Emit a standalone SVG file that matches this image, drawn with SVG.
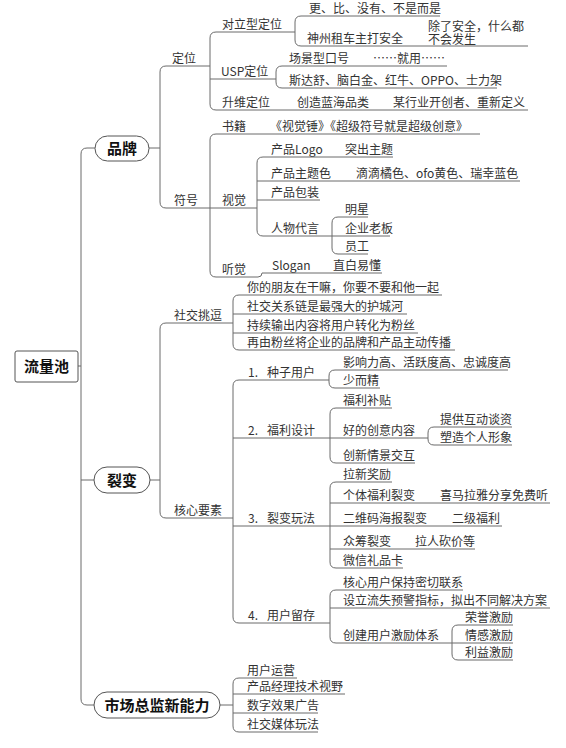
<svg xmlns="http://www.w3.org/2000/svg" width="566" height="748" viewBox="0 0 566 748">
<style>
.t{font-family:"Noto Sans CJK SC","Liberation Sans",sans-serif;font-size:12px;fill:#333}
.h{font-family:"Noto Sans CJK SC","Liberation Sans",sans-serif;font-size:15px;font-weight:bold;fill:#111;text-anchor:middle}
.u{stroke:#6a6a6a;stroke-width:1;fill:none}
.box{fill:#fff;stroke:#555;stroke-width:1}
</style>
<rect width="566" height="748" fill="#fff"/>
<g id="connectors" class="u">
<path d="M78 366H81M95 148H87Q81 148 81 154V699Q81 705 87 705H94M81 480H94"/>
<path d="M149 148H160M166 66Q160 66 160 72V202Q160 208 166 208"/>
<path d="M216 32Q210 32 210 38V104Q210 110 216 110"/>
<path d="M301 16Q295 16 295 22V40Q295 46 301 46"/>
<path d="M282 66Q276 66 276 72V82Q276 88 282 88"/>
<path d="M216 134Q210 134 210 140V271Q210 277 216 277"/>
<path d="M258 277Q262 277 262 273"/>
<path d="M263 157Q257 157 257 163V230Q257 236 263 236"/>
<path d="M338 217Q332 217 332 223V248Q332 254 338 254"/>
<path d="M150 480H160M166 323Q160 323 160 329V512Q160 518 166 518"/>
<path d="M239 295Q233 295 233 301V344Q233 350 239 350"/>
<path d="M239 380Q233 380 233 386V617Q233 623 239 623"/>
<path d="M335 370Q329 370 329 376V382Q329 388 335 388"/>
<path d="M336 408Q330 408 330 414V457Q330 463 336 463"/>
<path d="M434 427Q428 427 428 433V439Q428 445 434 445"/>
<path d="M336 482Q330 482 330 488V562Q330 568 336 568"/>
<path d="M336 590Q330 590 330 596V637Q330 643 336 643"/>
<path d="M458 625Q452 625 452 631V654Q452 660 458 660"/>
<path d="M220 705H233M239 678Q233 678 233 684V726Q233 732 239 732"/>
</g>
<g id="root"><rect class="box" x="15" y="351" width="63" height="31" rx="2"/><text class="h" x="46.5" y="372">流量池</text></g>
<g id="brand"><rect class="box" x="95" y="136" width="54" height="25" rx="12.5"/><text class="h" x="122" y="154">品牌</text></g>
<g id="fission"><rect class="box" x="94" y="467" width="56" height="26" rx="13"/><text class="h" x="122" y="485.5">裂变</text></g>
<g id="cmo"><rect class="box" x="94" y="692" width="126" height="26" rx="13"/><text class="h" x="157" y="710.5">市场总监新能力</text></g>

<g id="dingwei"><text class="t" x="172" y="63">定位</text><path class="u" d="M166 66H210"/></g>
<g id="duili"><text class="t" x="222" y="29">对立型定位</text><path class="u" d="M216 32H295"/></g>
<g id="geng"><text class="t" x="309" y="13">更、比、没有、不是而是</text><path class="u" d="M301 16H440"/></g>
<g id="shenzhou"><text class="t" x="307" y="43">神州租车主打安全</text><path class="u" d="M301 46H424"/></g>
<g id="chule"><text class="t" x="428" y="31">除了安全，什么都<tspan x="428" dy="12.5">不会发生</tspan></text><path class="u" d="M424 46H528"/></g>
<g id="usp"><text class="t" x="221" y="76">USP定位</text><path class="u" d="M210 79H276"/></g>
<g id="changjing"><text class="t" x="289" y="63">场景型口号</text><path class="u" d="M282 66H358"/></g>
<g id="jiuyong"><text class="t" x="373" y="63">……就用……</text><path class="u" d="M358 66H447"/></g>
<g id="sidashu"><text class="t" x="289" y="85">斯达舒、脑白金、红牛、OPPO、士力架</text><path class="u" d="M282 88H497"/></g>
<g id="shengwei"><text class="t" x="222" y="107">升维定位</text><path class="u" d="M216 110H290"/></g>
<g id="lanhai"><text class="t" x="297" y="107">创造蓝海品类</text><path class="u" d="M290 110H388"/></g>
<g id="kaichuang"><text class="t" x="393" y="107">某行业开创者、重新定义</text><path class="u" d="M388 110H528"/></g>

<g id="fuhao"><text class="t" x="174" y="205">符号</text><path class="u" d="M166 208H210"/></g>
<g id="shuji"><text class="t" x="222" y="131">书籍</text><path class="u" d="M216 134H268"/></g>
<g id="books"><text class="t" x="270" y="131">《视觉锤》《超级符号就是超级创意》</text><path class="u" d="M268 134H480"/></g>
<g id="shijue"><text class="t" x="222" y="205">视觉</text><path class="u" d="M210 208H257"/></g>
<g id="logo"><text class="t" x="271" y="154">产品Logo</text><path class="u" d="M263 157H330"/></g>
<g id="tuchu"><text class="t" x="345" y="154">突出主题</text><path class="u" d="M330 157H393"/></g>
<g id="zhutise"><text class="t" x="271" y="178">产品主题色</text><path class="u" d="M257 181H342"/></g>
<g id="didi"><text class="t" x="356" y="178">滴滴橘色、ofo黄色、瑞幸蓝色</text><path class="u" d="M342 181H520"/></g>
<g id="baozhuang"><text class="t" x="271" y="197">产品包装</text><path class="u" d="M257 200H320"/></g>
<g id="daiyan"><text class="t" x="271" y="233">人物代言</text><path class="u" d="M263 236H332"/></g>
<g id="mingxing"><text class="t" x="345" y="214">明星</text><path class="u" d="M338 217H368"/></g>
<g id="laoban"><text class="t" x="345" y="233">企业老板</text><path class="u" d="M332 236H390"/></g>
<g id="yuangong"><text class="t" x="345" y="251">员工</text><path class="u" d="M338 254H368"/></g>
<g id="tingjue"><text class="t" x="222" y="274">听觉</text><path class="u" d="M216 277H258"/></g>
<g id="slogan"><text class="t" x="272" y="270">Slogan</text><path class="u" d="M262 273H322"/></g>
<g id="zhibai"><text class="t" x="333" y="270">直白易懂</text><path class="u" d="M322 273H382"/></g>

<g id="shejiao"><text class="t" x="174" y="320">社交挑逗</text><path class="u" d="M166 323H233"/></g>
<g id="s1"><text class="t" x="247" y="292">你的朋友在干嘛，你要不要和他一起</text><path class="u" d="M239 295H442"/></g>
<g id="s2"><text class="t" x="247" y="311">社交关系链是最强大的护城河</text><path class="u" d="M233 314H407"/></g>
<g id="s3"><text class="t" x="247" y="330">持续输出内容将用户转化为粉丝</text><path class="u" d="M233 333H418"/></g>
<g id="s4"><text class="t" x="247" y="347">再由粉丝将企业的品牌和产品主动传播</text><path class="u" d="M239 350H455"/></g>

<g id="hexin"><text class="t" x="174" y="515">核心要素</text><path class="u" d="M166 518H233"/></g>
<g id="k1"><text class="t" x="248" y="377">1.<tspan x="267">种子用户</tspan></text><path class="u" d="M239 380H329"/></g>
<g id="k1a"><text class="t" x="343" y="367">影响力高、活跃度高、忠诚度高</text><path class="u" d="M335 370H508"/></g>
<g id="k1b"><text class="t" x="343" y="385">少而精</text><path class="u" d="M335 388H380"/></g>
<g id="k2"><text class="t" x="248" y="435">2.<tspan x="267">福利设计</tspan></text><path class="u" d="M233 438H330"/></g>
<g id="k2a"><text class="t" x="343" y="405">福利补贴</text><path class="u" d="M336 408H392"/></g>
<g id="k2b"><text class="t" x="343" y="435">好的创意内容</text><path class="u" d="M330 438H428"/></g>
<g id="k2b1"><text class="t" x="440" y="424">提供互动谈资</text><path class="u" d="M434 427H512"/></g>
<g id="k2b2"><text class="t" x="440" y="442">塑造个人形象</text><path class="u" d="M434 445H512"/></g>
<g id="k2c"><text class="t" x="343" y="460">创新情景交互</text><path class="u" d="M336 463H415"/></g>
<g id="k3"><text class="t" x="248" y="523">3.<tspan x="267">裂变玩法</tspan></text><path class="u" d="M233 526H330"/></g>
<g id="k3a"><text class="t" x="343" y="479">拉新奖励</text><path class="u" d="M336 482H392"/></g>
<g id="k3b"><text class="t" x="343" y="500">个体福利裂变</text><path class="u" d="M330 503H432"/></g>
<g id="k3b1"><text class="t" x="440" y="500">喜马拉雅分享免费听</text><path class="u" d="M432 503H550"/></g>
<g id="k3c"><text class="t" x="343" y="523">二维码海报裂变</text><path class="u" d="M330 526H445"/></g>
<g id="k3c1"><text class="t" x="452" y="523">二级福利</text><path class="u" d="M445 526H502"/></g>
<g id="k3d"><text class="t" x="343" y="546">众筹裂变</text><path class="u" d="M330 549H408"/></g>
<g id="k3d1"><text class="t" x="415" y="546">拉人砍价等</text><path class="u" d="M408 549H475"/></g>
<g id="k3e"><text class="t" x="343" y="565">微信礼品卡</text><path class="u" d="M336 568H403"/></g>
<g id="k4"><text class="t" x="248" y="620">4.<tspan x="267">用户留存</tspan></text><path class="u" d="M239 623H330"/></g>
<g id="k4a"><text class="t" x="343" y="587">核心用户保持密切联系</text><path class="u" d="M336 590H463"/></g>
<g id="k4b"><text class="t" x="343" y="605">设立流失预警指标，拟出不同解决方案</text><path class="u" d="M330 608H550"/></g>
<g id="k4c"><text class="t" x="343" y="640">创建用户激励体系</text><path class="u" d="M336 643H452"/></g>
<g id="k4c1"><text class="t" x="465" y="622">荣誉激励</text><path class="u" d="M458 625H513"/></g>
<g id="k4c2"><text class="t" x="465" y="640">情感激励</text><path class="u" d="M452 643H513"/></g>
<g id="k4c3"><text class="t" x="465" y="657">利益激励</text><path class="u" d="M458 660H513"/></g>

<g id="m1"><text class="t" x="247" y="675">用户运营</text><path class="u" d="M239 678H297"/></g>
<g id="m2"><text class="t" x="247" y="691">产品经理技术视野</text><path class="u" d="M233 694H345"/></g>
<g id="m3"><text class="t" x="247" y="710">数字效果广告</text><path class="u" d="M233 713H318"/></g>
<g id="m4"><text class="t" x="247" y="729">社交媒体玩法</text><path class="u" d="M239 732H318"/></g>
</svg>
